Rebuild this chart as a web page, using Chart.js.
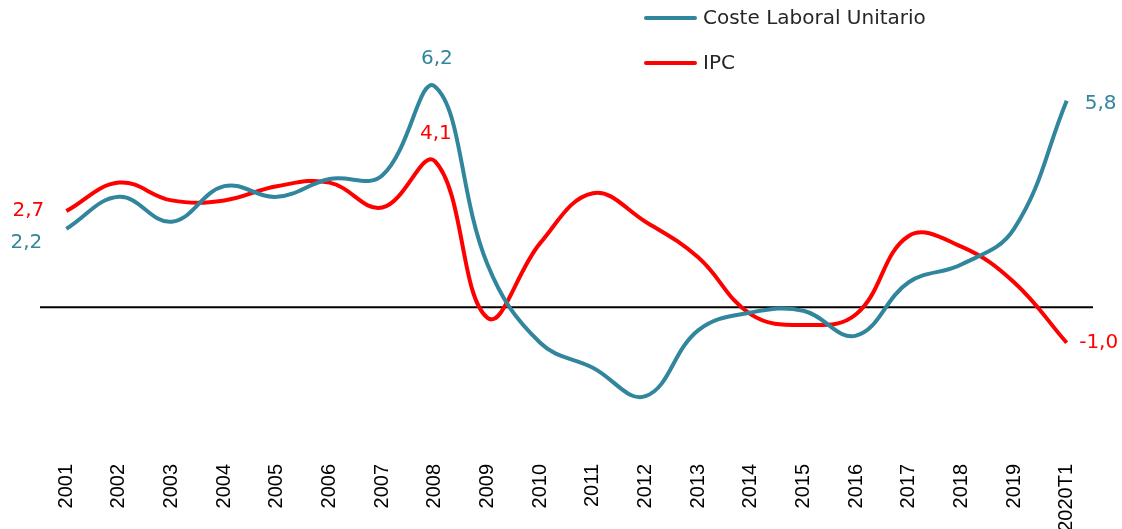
<!DOCTYPE html>
<html>
<head>
<meta charset="utf-8">
<script src="https://cdn.jsdelivr.net/npm/chart.js@4"></script>
<style>
  html, body { margin: 0; padding: 0; background: #fff; }
  #wrap { width: 1122px; height: 529px; }
</style>
</head>
<body>
<div id="wrap"><canvas id="chart" width="1122" height="529"></canvas></div>
<script>
// Data
const years = ['2001', '2002', '2003', '2004', '2005', '2006', '2007', '2008', '2009', '2010',
               '2011', '2012', '2013', '2014', '2015', '2016', '2017', '2018', '2019', '2020T1'];
const costeLaboral = [2.2, 3.1, 2.4, 3.4, 3.1, 3.6, 3.7, 6.2, 1.2, -1.0,
                      -1.7, -2.5, -0.65, -0.15, -0.1, -0.8, 0.7, 1.2, 2.2, 5.8];
const ipc = [2.7, 3.5, 3.0, 3.0, 3.4, 3.5, 2.8, 4.1, -0.3, 1.8,
             3.2, 2.4, 1.4, -0.2, -0.5, -0.2, 2.0, 1.7, 0.7, -1.0];

const TEAL = '#31859C';
const RED = '#FF0000';
const labelFont = '20px "DejaVu Sans", sans-serif';

// Zero line across the plot
const zeroLine = {
    id: 'zeroLine',
    beforeDatasetsDraw(chart) {
        const { ctx, chartArea } = chart;
        const y = chart.scales.y.getPixelForValue(0);
        ctx.save();
        ctx.strokeStyle = '#000';
        ctx.lineWidth = 2;
        ctx.beginPath();
        ctx.moveTo(chartArea.left, y);
        ctx.lineTo(chartArea.right, y);
        ctx.stroke();
        ctx.restore();
    }
};

// Value labels at first, 2008 and last points
const valueLabels = {
    id: 'valueLabels',
    afterDatasetsDraw(chart) {
        const ctx = chart.ctx;
        const fmt = v => v.toFixed(1).replace('.', ',');
        const spots = [
            { ds: 0, i: 0, dx: -40, dy: 14 },
            { ds: 1, i: 0, dx: -38, dy: 0 },
            { ds: 0, i: 7, dx: 2, dy: -28 },
            { ds: 1, i: 7, dx: 1, dy: -27 },
            { ds: 0, i: years.length - 1, dx: 34, dy: 3 },
            { ds: 1, i: years.length - 1, dx: 32, dy: 0 }
        ];
        ctx.save();
        ctx.font = labelFont;
        ctx.textAlign = 'center';
        ctx.textBaseline = 'middle';
        spots.forEach(s => {
            const pt = chart.getDatasetMeta(s.ds).data[s.i];
            const val = chart.data.datasets[s.ds].data[s.i];
            ctx.fillStyle = s.ds === 0 ? TEAL : RED;
            ctx.fillText(fmt(val), pt.x + s.dx, pt.y + s.dy);
        });
        ctx.restore();
    }
};

// Legend in the top right corner
const topLegend = {
    id: 'topLegend',
    afterDraw(chart) {
        const ctx = chart.ctx;
        const items = chart.data.datasets;
        ctx.save();
        ctx.font = labelFont;
        ctx.textBaseline = 'middle';
        items.forEach((d, k) => {
            const y = 18 + k * 45;
            ctx.strokeStyle = d.borderColor;
            ctx.lineWidth = 4;
            ctx.lineCap = 'round';
            ctx.beginPath();
            ctx.moveTo(646, y);
            ctx.lineTo(695, y);
            ctx.stroke();
            ctx.fillStyle = '#262626';
            ctx.fillText(d.label, 703, y + 1);
        });
        ctx.restore();
    }
};

new Chart(document.getElementById('chart'), {
    type: 'line',
    data: {
        labels: years,
        datasets: [
            {
                label: 'Coste Laboral Unitario',
                data: costeLaboral,
                borderColor: TEAL,
                borderWidth: 4,
                tension: 0.4,
                pointRadius: 0,
                fill: false
            },
            {
                label: 'IPC',
                data: ipc,
                borderColor: RED,
                borderWidth: 4,
                tension: 0.4,
                pointRadius: 0,
                fill: false
            }
        ]
    },
    options: {
        responsive: false,
        animation: false,
        layout: { padding: { left: 40, right: 29, top: 58, bottom: 0 } },
        plugins: {
            legend: { display: false },
            tooltip: { enabled: false }
        },
        scales: {
            x: {
                offset: true,
                grid: { display: false, drawTicks: false },
                border: { display: false },
                ticks: {
                    minRotation: 90,
                    maxRotation: 90,
                    padding: 50,
                    color: '#000',
                    font: { family: '"Liberation Sans", Arial, sans-serif', size: 20 }
                },
                afterFit(scale) {
                    scale.height = 115;
                    scale.paddingLeft = 0;
                    scale.paddingRight = 0;
                }
            },
            y: {
                display: false,
                min: -3,
                max: 7
            }
        }
    },
    plugins: [zeroLine, valueLabels, topLegend]
});
</script>
</body>
</html>
